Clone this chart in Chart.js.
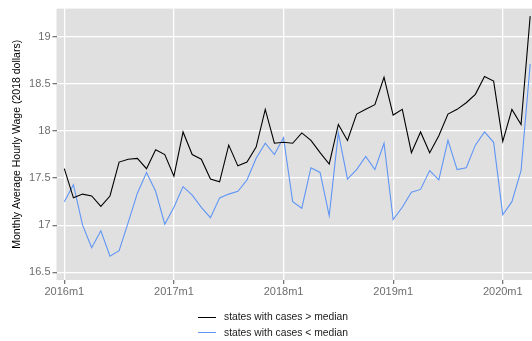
<!DOCTYPE html>
<html>
<head>
<meta charset="utf-8">
<script src="https://cdn.jsdelivr.net/npm/chart.js@4"></script>
<style>
  html, body { margin: 0; padding: 0; background: #fff; }
  #wrap { position: relative; width: 532px; height: 341px; overflow: hidden; }
  #legend { position: absolute; left: 198px; top: 309px; font-family: "Liberation Sans", Arial, sans-serif; font-size: 10.3px; color: #1a1a1a; }
  .row { height: 15.6px; line-height: 15.6px; white-space: nowrap; }
  .swatch { display: inline-block; width: 18px; height: 0; vertical-align: middle; margin-right: 8px; }
</style>
</head>
<body>
<div id="wrap">
  <canvas id="chart" width="532" height="341"></canvas>
  <div id="legend"></div>
</div>
<script>
// months since 2016m1
const months = ['2016m1','2016m2','2016m3','2016m4','2016m5','2016m6','2016m7','2016m8','2016m9','2016m10','2016m11','2016m12',
  '2017m1','2017m2','2017m3','2017m4','2017m5','2017m6','2017m7','2017m8','2017m9','2017m10','2017m11','2017m12',
  '2018m1','2018m2','2018m3','2018m4','2018m5','2018m6','2018m7','2018m8','2018m9','2018m10','2018m11','2018m12',
  '2019m1','2019m2','2019m3','2019m4','2019m5','2019m6','2019m7','2019m8','2019m9','2019m10','2019m11','2019m12',
  '2020m1','2020m2','2020m3','2020m4'];

const aboveMedian = [17.60, 17.29, 17.33, 17.31, 17.20, 17.31, 17.67, 17.70, 17.71, 17.60, 17.80, 17.75,
  17.52, 17.99, 17.75, 17.70, 17.49, 17.46, 17.85, 17.63, 17.67, 17.83, 18.23, 17.87,
  17.88, 17.87, 17.98, 17.90, 17.77, 17.65, 18.07, 17.90, 18.18, 18.23, 18.28, 18.57,
  18.17, 18.23, 17.77, 17.99, 17.77, 17.95, 18.18, 18.23, 18.30, 18.39, 18.58, 18.53,
  17.89, 18.23, 18.07, 19.22];

const belowMedian = [17.25, 17.43, 17.00, 16.76, 16.94, 16.67, 16.73, 17.03, 17.34, 17.56, 17.36, 17.01,
  17.19, 17.41, 17.32, 17.19, 17.08, 17.29, 17.33, 17.36, 17.48, 17.71, 17.87, 17.75,
  17.93, 17.25, 17.18, 17.61, 17.56, 17.10, 17.98, 17.49, 17.59, 17.73, 17.59, 17.87,
  17.06, 17.19, 17.35, 17.38, 17.58, 17.48, 17.90, 17.59, 17.61, 17.85, 17.99, 17.88,
  17.11, 17.25, 17.58, 18.71];

const xTicks = [0, 12, 24, 36, 48];
const yTicks = [16.5, 17, 17.5, 18, 18.5, 19];
const yTickLabels = ['16.5', '17', '17.5', '18', '18.5', '19'];
const seriesNames = ['states with cases > median', 'states with cases < median'];
const seriesColors = ['#000000', '#5f95f5'];

const toPoints = arr => arr.map((v, i) => ({ x: i, y: v }));

const panelBg = {
  id: 'panelBg',
  beforeDraw(chart) {
    const { ctx, chartArea: a } = chart;
    ctx.save();
    ctx.fillStyle = '#e0e0e0';
    ctx.fillRect(a.left, a.top, a.right - a.left, a.bottom - a.top);
    ctx.restore();
  }
};

const tickFont = { family: '"Liberation Sans", Arial, sans-serif', size: 11 };

new Chart(document.getElementById('chart'), {
  type: 'line',
  data: {
    datasets: [
      { label: seriesNames[0], data: toPoints(aboveMedian), borderColor: seriesColors[0], borderWidth: 1.1, pointRadius: 0, tension: 0, fill: false },
      { label: seriesNames[1], data: toPoints(belowMedian), borderColor: seriesColors[1], borderWidth: 1.1, pointRadius: 0, tension: 0, fill: false }
    ]
  },
  options: {
    responsive: false,
    animation: false,
    layout: { padding: { top: 6, right: 0, bottom: 39, left: 0 } },
    plugins: { legend: { display: false }, tooltip: { enabled: false } },
    scales: {
      x: {
        type: 'linear',
        min: -0.854,
        max: 51.2,
        afterBuildTicks: s => { s.ticks = xTicks.map(v => ({ value: v })); },
        afterFit: s => { s.height = 22; },
        ticks: { callback: v => months[v], color: '#6e6e6e', font: tickFont, padding: 1, maxRotation: 0 },
        grid: { color: '#ffffff', lineWidth: 1.3, tickColor: '#777', tickLength: 4, drawOnChartArea: true },
        border: { display: false }
      },
      y: {
        min: 16.418,
        max: 19.3,
        afterBuildTicks: s => { s.ticks = yTicks.map(v => ({ value: v })); },
        afterFit: s => { s.width = 56.5; },
        ticks: { callback: v => yTickLabels[yTicks.indexOf(v)], color: '#6e6e6e', font: tickFont, padding: 2 },
        grid: { color: '#ffffff', lineWidth: 1.3, tickColor: '#777', tickLength: 4 },
        border: { display: false },
        title: { display: true, text: 'Monthly Average Hourly Wage (2018 dollars)', color: '#000', font: { family: tickFont.family, size: 10.5 }, padding: { top: 11, bottom: 0 } }
      }
    }
  },
  plugins: [panelBg]
});

// legend below the panel, stacked
const legend = document.getElementById('legend');
seriesNames.forEach((name, i) => {
  const row = document.createElement('div');
  row.className = 'row';
  const sw = document.createElement('span');
  sw.className = 'swatch';
  sw.style.borderTop = '1.2px solid ' + seriesColors[i];
  row.appendChild(sw);
  row.appendChild(document.createTextNode(name));
  legend.appendChild(row);
});
</script>
</body>
</html>
